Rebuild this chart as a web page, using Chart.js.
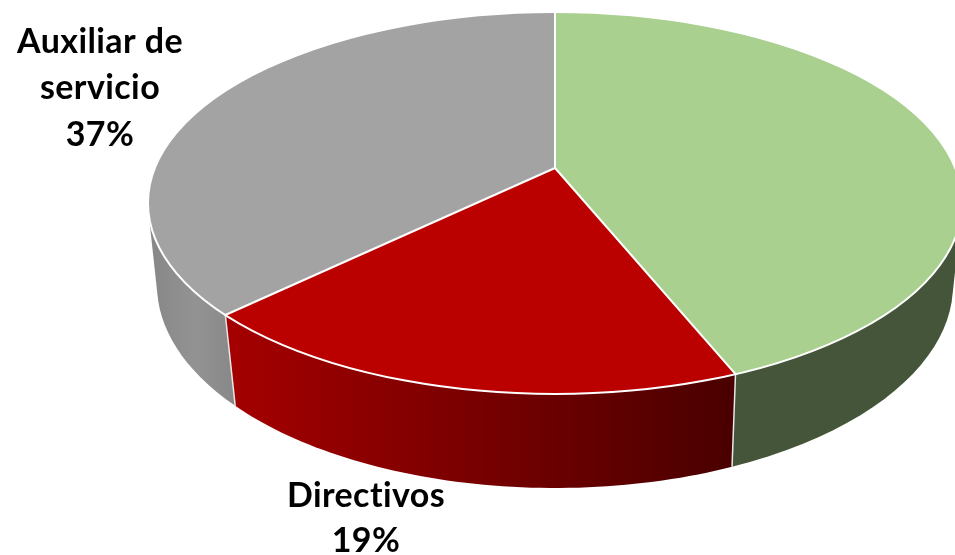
<!doctype html>
<html lang="es">
<head>
<meta charset="utf-8">
<title>Pie 3D</title>
<script src="https://cdn.jsdelivr.net/npm/chart.js@4/dist/chart.umd.js"></script>
<style>
    html, body { margin: 0; background: #fff; }
    canvas { display: block; }
</style>
</head>
<body>
<canvas id="chart1" width="955" height="555"></canvas>
<script>
    const categories = ['Otros', 'Directivos', 'Auxiliar de servicio'];
    const percents = [43.8, 19.1, 37.1];
    const topColors = ['#a9d08e', '#bb0000', '#a3a3a3'];

    // vista en perspectiva: la tapa y la base son elipses con el vertice corrido hacia atras
    const tilt = 0.469;
    const topFace = {ax: 555, ay: 168, cx: 555, cy: 203, rx: 407, ry: 191, narrow: 1};
    const baseFace = {ax: 555, ay: 260, cx: 555, cy: 285, rx: 398, ry: 203, narrow: 0.978};

    function rimPoint(face, angle) {
        const dx = face.narrow * Math.cos(angle), dy = tilt * Math.sin(angle);
        const ox = (face.ax - face.cx) / face.rx, oy = (face.ay - face.cy) / face.ry;
        const ux = dx / face.rx, uy = dy / face.ry;
        const a = ux * ux + uy * uy, b = 2 * (ox * ux + oy * uy), c = ox * ox + oy * oy - 1;
        const t = (-b + Math.sqrt(b * b - 4 * a * c)) / (2 * a);
        return {x: face.ax + dx * t, y: face.ay + dy * t};
    }

    function hull(points) {
        const pts = points.slice().sort((p, q) => p.x - q.x || p.y - q.y);
        const cross = (o, p, q) => (p.x - o.x) * (q.y - o.y) - (p.y - o.y) * (q.x - o.x);
        const half = list => {
            const out = [];
            list.forEach(p => {
                while (out.length > 1 && cross(out[out.length - 2], out[out.length - 1], p) <= 0) out.pop();
                out.push(p);
            });
            out.pop();
            return out;
        };
        return half(pts).concat(half(pts.slice().reverse()));
    }

    function wallFill(ctx, index) {
        if (index === 0) return '#445539';
        const g = index === 1 ? ctx.createLinearGradient(233, 0, 731, 0) : ctx.createLinearGradient(150, 0, 233, 0);
        if (index === 1) {
            g.addColorStop(0, '#a40000');
            g.addColorStop(1, '#4a0000');
        } else {
            g.addColorStop(0, '#878787');
            g.addColorStop(0.55, '#939393');
            g.addColorStop(1, '#888888');
        }
        return g;
    }

    const pie3d = {
        id: 'pie3d',
        beforeDatasetsDraw(chart) {
            const ctx = chart.ctx;
            const arcs = chart.getDatasetMeta(0).data;
            // el rojo va al final porque su pared queda delante
            [0, 2, 1].forEach(i => {
                const arc = arcs[i], points = [];
                for (let s = 0; s <= 60; s++) {
                    const angle = arc.startAngle + (arc.endAngle - arc.startAngle) * s / 60;
                    points.push(rimPoint(topFace, angle), rimPoint(baseFace, angle));
                }
                ctx.beginPath();
                hull(points).forEach((p, n) => n ? ctx.lineTo(p.x, p.y) : ctx.moveTo(p.x, p.y));
                ctx.closePath();
                ctx.fillStyle = wallFill(ctx, i);
                ctx.fill();
            });
            ctx.strokeStyle = '#e8e8e8';
            ctx.lineWidth = 1.5;
            [arcs[1].startAngle, arcs[1].endAngle].forEach(angle => {
                const a = rimPoint(topFace, angle), b = rimPoint(baseFace, angle);
                ctx.beginPath();
                ctx.moveTo(a.x, a.y);
                ctx.lineTo(b.x, b.y);
                ctx.stroke();
            });
            // la tapa: los arcos de Chart.js aplastados y recortados a la elipse
            const c = arcs[0], s = 500 / c.outerRadius;
            ctx.save();
            ctx.beginPath();
            ctx.ellipse(topFace.cx, topFace.cy, topFace.rx, topFace.ry, 0, 0, Math.PI * 2);
            ctx.clip();
            ctx.translate(topFace.ax, topFace.ay);
            ctx.scale(s, s * tilt);
            ctx.translate(-c.x, -c.y);
        },
        afterDatasetsDraw(chart) {
            const ctx = chart.ctx;
            ctx.restore();
            ctx.strokeStyle = '#ffffff';
            ctx.lineWidth = 2;
            ctx.beginPath();
            ctx.ellipse(topFace.cx, topFace.cy, topFace.rx, topFace.ry, 0, 0, Math.PI * 2);
            ctx.stroke();
            chart.getDatasetMeta(0).data.forEach(arc => {
                const p = rimPoint(topFace, arc.startAngle);
                ctx.beginPath();
                ctx.moveTo(topFace.ax, topFace.ay);
                ctx.lineTo(p.x, p.y);
                ctx.stroke();
            });
        },
        afterDraw(chart) {
            const ctx = chart.ctx;
            ctx.save();
            ctx.fillStyle = '#000';
            ctx.font = 'bold 34px Lato';
            ctx.letterSpacing = '0.4px';
            ctx.textAlign = 'center';
            ctx.fillText('Auxiliar de', 100, 53);
            ctx.fillText('servicio', 100, 99);
            ctx.fillText(Math.round(percents[2]) + '%', 100, 146);
            ctx.fillText(categories[1], 366, 507);
            ctx.fillText(Math.round(percents[1]) + '%', 366, 552);
            ctx.restore();
        }
    };

    new Chart(document.getElementById('chart1').getContext('2d'), {
        type: 'pie',
        data: {
            labels: categories,
            datasets: [{
                data: percents,
                backgroundColor: topColors,
                borderWidth: 0,
                clip: false
            }]
        },
        options: {
            responsive: false,
            animation: false,
            plugins: {
                legend: {display: false},
                tooltip: {enabled: false}
            }
        },
        plugins: [pie3d]
    });
</script>
</body>
</html>
